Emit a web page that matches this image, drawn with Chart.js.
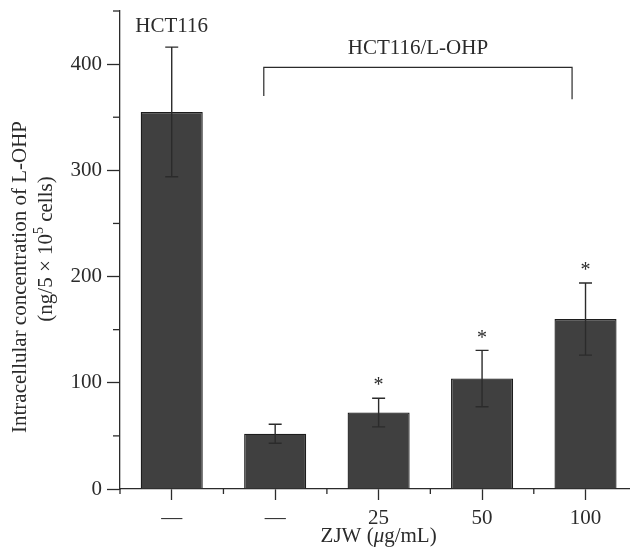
<!DOCTYPE html>
<html>
<head>
<meta charset="utf-8">
<script src="https://cdn.jsdelivr.net/npm/chart.js@4.4.0/dist/chart.umd.min.js"></script>
<style>
  html, body { margin: 0; padding: 0; background: #fff; }
</style>
</head>
<body>
<canvas id="chart" width="630" height="560"></canvas>
<script>
// data
const categories = ['—', '—', '25', '50', '100'];
const means = [355, 52, 72, 104, 160];
const errors = [61, 9, 13.5, 26.5, 34];
const significant = [false, false, true, true, true];

const yTicks = [0, 100, 200, 300, 400];
const yMinorTicks = [50, 150, 250, 350, 450];

// group annotations
const groupLabel = 'HCT116';
const groupLabelAt = [0, 435];
const bracketLabel = 'HCT116/L-OHP';
const bracketSpan = [0.89, 3.87];
const bracketTop = 397;
const bracketEnds = [370, 367];

const FONT = "'Liberation Serif', 'Times New Roman', serif";
const SIZE = 21;
const INK = '#2b2b2b';

const overlay = {
    id: 'overlay',
    afterDatasetsDraw(chart) {
        const { ctx, scales: { x, y }, chartArea } = chart;
        ctx.save();
        ctx.strokeStyle = INK;
        ctx.fillStyle = INK;

        // minor ticks
        ctx.lineWidth = 1.3;
        yMinorTicks.forEach(v => {
            const py = y.getPixelForValue(v);
            ctx.beginPath();
            ctx.moveTo(chartArea.left - 7, py);
            ctx.lineTo(chartArea.left, py);
            ctx.stroke();
        });
        for (let i = -0.5; i < categories.length; i += 1) {
            const px = x.getPixelForValue(i);
            ctx.beginPath();
            ctx.moveTo(px, chartArea.bottom);
            ctx.lineTo(px, chartArea.bottom + 5);
            ctx.stroke();
        }

        // error bars and asterisks
        means.forEach((m, i) => {
            const px = x.getPixelForValue(i);
            const top = y.getPixelForValue(m + errors[i]);
            const bot = y.getPixelForValue(m - errors[i]);
            ctx.lineWidth = 1.4;
            ctx.beginPath();
            ctx.moveTo(px, top); ctx.lineTo(px, bot);
            ctx.moveTo(px - 6.5, top); ctx.lineTo(px + 6.5, top);
            ctx.moveTo(px - 6.5, bot); ctx.lineTo(px + 6.5, bot);
            ctx.stroke();
            if (significant[i]) {
                ctx.font = '20px ' + FONT;
                ctx.textAlign = 'center';
                ctx.textBaseline = 'middle';
                ctx.fillText('*', px, top - 12);
            }
        });

        // bracket
        const bx0 = x.getPixelForValue(bracketSpan[0]);
        const bx1 = x.getPixelForValue(bracketSpan[1]);
        ctx.lineWidth = 1.2;
        ctx.beginPath();
        ctx.moveTo(bx0, y.getPixelForValue(bracketEnds[0]));
        ctx.lineTo(bx0, y.getPixelForValue(bracketTop));
        ctx.lineTo(bx1, y.getPixelForValue(bracketTop));
        ctx.lineTo(bx1, y.getPixelForValue(bracketEnds[1]));
        ctx.stroke();

        ctx.font = SIZE + 'px ' + FONT;
        ctx.textAlign = 'center';
        ctx.textBaseline = 'middle';
        ctx.fillText(bracketLabel, (bx0 + bx1) / 2, y.getPixelForValue(415));
        ctx.fillText(groupLabel, x.getPixelForValue(groupLabelAt[0]), y.getPixelForValue(groupLabelAt[1]));

        // y title (two lines)
        const cy = (chartArea.top + chartArea.bottom) / 2;
        ctx.save();
        ctx.translate(20, cy + 27);
        ctx.rotate(-Math.PI / 2);
        ctx.fillText('Intracellular concentration of L-OHP', 0, 0);
        ctx.restore();

        ctx.save();
        ctx.translate(46, cy - 1);
        ctx.rotate(-Math.PI / 2);
        const p1 = '(ng/5 × 10', sup = '5', p2 = ' cells)';
        ctx.font = SIZE + 'px ' + FONT;
        const w1 = ctx.measureText(p1).width;
        const w3 = ctx.measureText(p2).width;
        ctx.font = '14px ' + FONT;
        const w2 = ctx.measureText(sup).width;
        const sx = -(w1 + w2 + w3) / 2;
        ctx.textAlign = 'left';
        ctx.font = SIZE + 'px ' + FONT;
        ctx.fillText(p1, sx, 0);
        ctx.font = '14px ' + FONT;
        ctx.fillText(sup, sx + w1, -7);
        ctx.font = SIZE + 'px ' + FONT;
        ctx.fillText(p2, sx + w1 + w2, 0);
        ctx.restore();

        // x title with italic mu
        const parts = [['ZJW (', ''], ['μ', 'italic '], ['g/mL)', '']];
        let total = 0;
        parts.forEach(p => { ctx.font = p[1] + SIZE + 'px ' + FONT; total += ctx.measureText(p[0]).width; });
        let tx = x.getPixelForValue(2) - total / 2;
        ctx.textAlign = 'left';
        parts.forEach(p => {
            ctx.font = p[1] + SIZE + 'px ' + FONT;
            ctx.fillText(p[0], tx, 536);
            tx += ctx.measureText(p[0]).width;
        });

        ctx.restore();
    }
};

new Chart(document.getElementById('chart'), {
    type: 'bar',
    data: {
        datasets: [{
            data: means.map((m, i) => ({ x: i, y: m })),
            backgroundColor: '#404040',
            borderColor: '#1c1c1c',
            borderWidth: 1.3,
            barPercentage: 0.6,
            categoryPercentage: 1
        }]
    },
    options: {
        responsive: false,
        animation: false,
        layout: { padding: { top: 11, left: 0, right: 0, bottom: 0 } },
        plugins: { legend: { display: false }, tooltip: { enabled: false } },
        scales: {
            x: {
                type: 'linear',
                offset: false,
                min: -0.5,
                max: 4.43,
                afterBuildTicks: s => { s.ticks = categories.map((c, i) => ({ value: i })); },
                afterFit: s => { s.height = 71; s.paddingLeft = 0; s.paddingRight = 0; },
                ticks: {
                    callback: v => categories[v],
                    color: INK,
                    font: { family: FONT, size: SIZE },
                    padding: 6
                },
                grid: { offset: false, drawOnChartArea: false, tickLength: 11, tickColor: INK, tickWidth: 1.3 },
                border: { color: INK, width: 1.3 }
            },
            y: {
                min: 0,
                max: 450,
                afterBuildTicks: s => { s.ticks = yTicks.map(v => ({ value: v })); },
                afterFit: s => { s.width = 120; s.paddingTop = 0; s.paddingBottom = 0; },
                ticks: {
                    color: INK,
                    font: { family: FONT, size: SIZE },
                    padding: 5
                },
                grid: { drawOnChartArea: false, tickLength: 13, tickColor: INK, tickWidth: 1.3 },
                border: { color: INK, width: 1.3 }
            }
        }
    },
    plugins: [overlay]
});
</script>
</body>
</html>
